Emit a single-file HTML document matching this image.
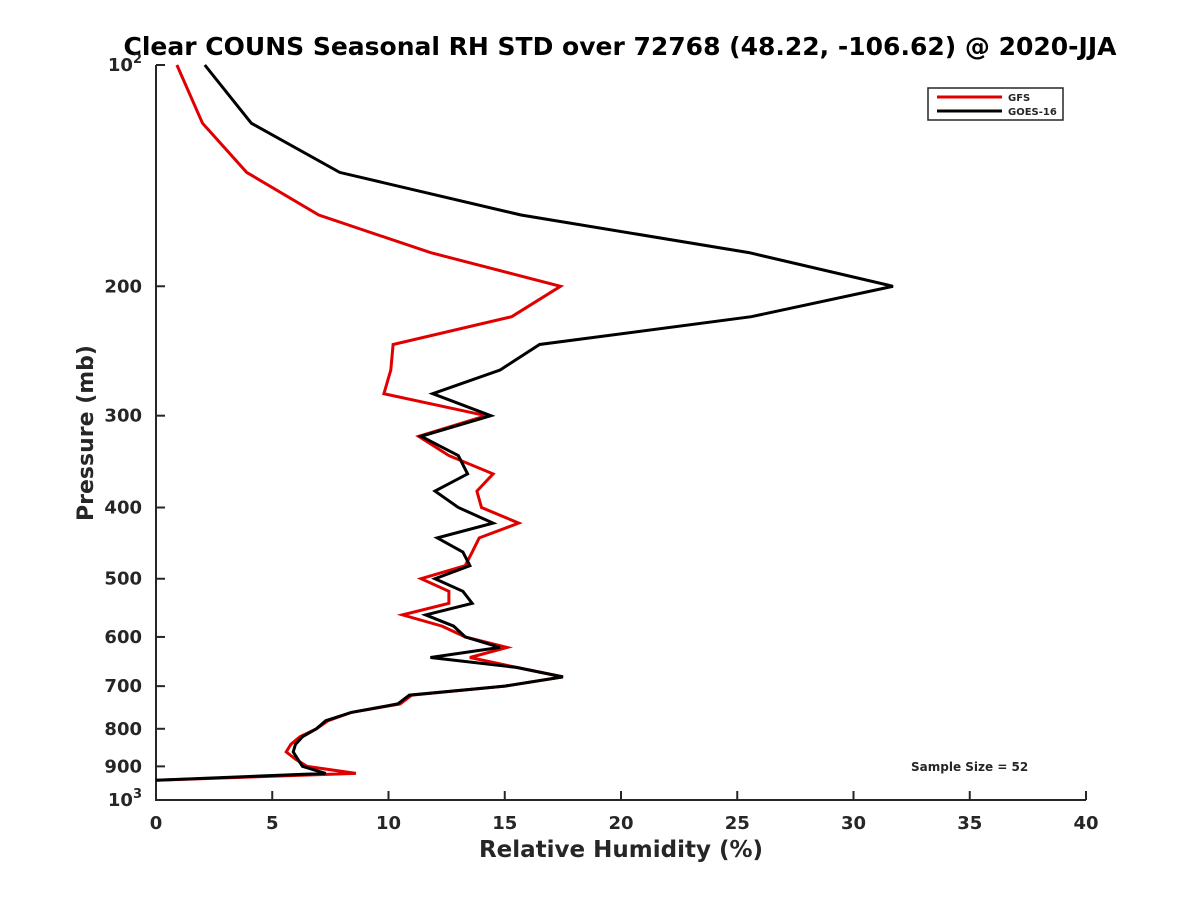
<!DOCTYPE html>
<html><head><meta charset="utf-8"><style>
body{margin:0;background:#fff;}
svg text{font-family:"DejaVu Sans","Liberation Sans",sans-serif;font-weight:bold;fill:#262626;}
</style></head><body>
<svg id="chart" width="1200" height="900"></svg>
<script>
const pressures=[100,120,140,160,180,200,220,240,260,280,300,320,340,360,380,400,420,440,460,480,500,520,540,560,580,600,620,640,660,680,700,720,740,760,780,800,820,840,860,880,900,920,940];
const gfsValues=[0.9,2.0,3.9,7.0,11.8,17.4,15.3,10.2,10.1,9.8,14.2,11.3,12.6,14.5,13.8,14.0,15.6,13.9,13.6,13.3,11.4,12.6,12.6,10.6,12.3,13.3,15.1,13.5,15.5,17.5,15.0,11.0,10.5,8.4,7.4,6.9,6.2,5.8,5.6,6.0,6.5,8.6,0];
const goesValues=[2.1,4.1,7.9,15.7,25.5,31.7,25.6,16.5,14.8,11.9,14.4,11.4,13.0,13.4,12.0,13.0,14.5,12.1,13.2,13.5,12.0,13.2,13.6,11.6,12.8,13.3,14.8,11.8,15.5,17.5,15.0,10.9,10.4,8.4,7.3,6.9,6.3,6.0,5.9,6.1,6.3,7.3,0];
const xTicks=[0,5,10,15,20,25,30,35,40];
const yTicks=[100,200,300,400,500,600,700,800,900,1000];
const NS="http://www.w3.org/2000/svg";
const svg=document.getElementById('chart');
const L=156,R=1086,T=65,B=800;
const xs=v=>L+(v/40)*(R-L);
const ys=p=>T+(Math.log10(p)-2)*(B-T);
function mk(tag,attrs,parent){const e=document.createElementNS(NS,tag);for(const k in attrs)e.setAttribute(k,attrs[k]);(parent||svg).appendChild(e);return e;}
let t=mk('text',{x:620,y:55,'text-anchor':'middle','font-size':25,fill:'#000',style:'fill:#000'});
t.textContent='Clear COUNS Seasonal RH STD over 72768 (48.22, -106.62) @ 2020-JJA';


let ax=mk('path',{d:`M${L},${T}V${B}H${R}`,stroke:'#262626','stroke-width':2,fill:'none'});


xTicks.forEach(v=>{
  mk('line',{x1:xs(v),x2:xs(v),y1:B,y2:B-9,stroke:'#262626','stroke-width':2});
  const tx=mk('text',{x:xs(v),y:B+29,'text-anchor':'middle','font-size':18});
  tx.textContent=v;
  
  
});
yTicks.forEach(p=>{
  mk('line',{x1:L,x2:L+9,y1:ys(p),y2:ys(p),stroke:'#262626','stroke-width':2});
  const ty=mk('text',{x:L-14,y:ys(p)+6,'text-anchor':'end','font-size':18});
  if(p===100||p===1000){ty.textContent='10';const s=mk('tspan',{dy:-8,'font-size':13},ty);s.textContent=p===100?'2':'3';}
  else ty.textContent=p;
  
  
});
let xl=mk('text',{x:621,y:857,'text-anchor':'middle','font-size':23});
xl.textContent='Relative Humidity (%)';


let yl=mk('text',{x:93,y:433,'text-anchor':'middle','font-size':22,transform:'rotate(-90 93 433)'});
yl.textContent='Pressure (mb)';


function line(vals,color,name){
  const d=vals.map((v,i)=>(i?'L':'M')+xs(v).toFixed(1)+','+ys(pressures[i]).toFixed(1)).join('');
  const p=mk('path',{d:d,stroke:color,'stroke-width':3,fill:'none','stroke-linejoin':'miter'});
  
  
}
line(gfsValues,'#e00000','gfs-line');
line(goesValues,'#000','goes16-line');
const lg=mk('g',{});


mk('rect',{x:928,y:88,width:135,height:32,fill:'#fff',stroke:'#262626','stroke-width':1.5},lg);
mk('line',{x1:937,x2:1002,y1:97,y2:97,stroke:'#e00000','stroke-width':3},lg);
mk('line',{x1:937,x2:1002,y1:111,y2:111,stroke:'#000','stroke-width':3},lg);
let g1=mk('text',{x:1008,y:101,'font-size':10},lg);g1.textContent='GFS';


let g2=mk('text',{x:1008,y:115,'font-size':10},lg);g2.textContent='GOES-16';


let ss=mk('text',{x:911,y:771,'font-size':12,fill:'#000'});
ss.textContent='Sample Size = 52';


</script>
</body></html>
